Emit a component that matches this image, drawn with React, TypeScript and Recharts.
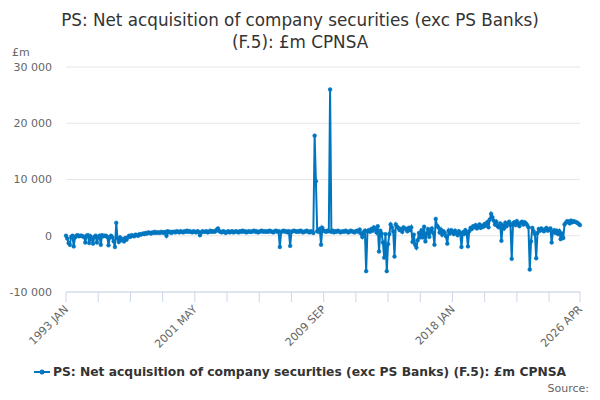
import { LineChart, Line, XAxis, YAxis, CartesianGrid } from 'recharts';

// monthly values, £m, 1993 JAN .. 2026 APR
const v1993 = [0, -500, -1300, -1600, -200, 0, -1900, -300, 0, 100, -100, 0];
const v1994 = [0, -100, -200, -1200, 0, 100, -1300, -100, -600, -1400, -200, 0];
const v1995 = [-1200, -300, 0, -1600, 100, -100, 0, 0, -200, -1700, -300, 0];
const v1996 = [-300, -1000, -2000, 2300, -500, -1100, -300, -800, -600, -1000, -400, -700];
const v1997 = [-300, 0, -200, 100, 0, -100, 200, 100, 0, 300, 200, 300];
const v1998 = [400, 300, 500, 400, 600, 500, 400, 600, 500, 700, 500, 600];
const v1999 = [600, 500, 700, 600, 500, 700, 0, 800, 600, 700, 500, 700];
const v2000 = [700, 600, 800, 700, 600, 800, 700, 600, 800, 700, 900, 700];
const v2001 = [800, 700, 600, 800, 700, 600, 800, 700, 100, 600, 800, 700];
const v2002 = [700, 800, 600, 700, 900, 700, 800, 700, 800, 1100, 1300, 800];
const v2003 = [700, 600, 800, 700, 500, 700, 800, 600, 700, 800, 600, 700];
const v2004 = [800, 700, 600, 800, 700, 900, 700, 800, 600, 700, 800, 700];
const v2005 = [700, 800, 900, 700, 800, 600, 700, 800, 900, 700, 800, 700];
const v2006 = [800, 700, 900, 800, 700, 600, 800, 900, 700, 800, -2000, 700];
const v2007 = [800, 900, 700, 800, 600, 800, -1800, 700, 800, 900, 800, 700];
const v2008 = [800, 700, 900, 800, 600, 700, 800, 900, 700, 600, 800, 700];
const v2009 = [500, 17800, 9700, 800, 700, 1200, -1600, 1400, 900, 800, 700, 900];
const v2010 = [800, 26000, 700, 900, 600, 800, 700, 900, 800, 600, 700, 800];
const v2011 = [700, 900, 800, 600, 700, 900, 800, 700, 600, 800, 900, 700];
const v2012 = [1100, 400, -200, 600, 900, -6300, 800, 1000, 700, 1200, 900, 1500];
const v2013 = [1200, 600, 1700, -2800, 900, 400, -1200, -3900, 300, -6300, -1500, 300];
const v2014 = [2000, 1500, 800, -3700, 2000, 1600, 1400, 1000, 1200, 700, 1500, 1300];
const v2015 = [1200, 800, 1400, 1000, 1500, -1100, 200, -1600, -2100, -800, 500, -300];
const v2016 = [1000, -300, 1600, -1000, 400, 1200, -200, 800, 1300, 500, -1600, 3000];
const v2017 = [1800, 1500, 600, 1100, 200, 800, 500, -100, -1400, 900, 400, 1000];
const v2018 = [700, 300, 900, 500, 100, 800, 400, -2000, 600, 300, 1000, 500];
const v2019 = [-1900, 800, 1400, 1200, 1700, 1500, 1900, 1300, 1600, 2000, 1400, 1800];
const v2020 = [1600, 2100, 1800, 2400, 1500, 2900, 3900, 3300, 2700, 2000, 2500, 1700];
const v2021 = [1500, 2200, -900, 1800, 1300, 2300, 1700, 2200, 2500, 1900, -4100, 2200];
const v2022 = [2400, 1900, 2600, 2100, 1700, 2300, 2500, 2000, 2400, 2200, 1900, 1500];
const v2023 = [-6000, -1000, 1400, 800, 300, -4000, 500, 1200, 900, 1300, 1000, 800];
const v2024 = [1200, 1400, 900, 1100, 1300, -1200, 700, 1000, 500, 900, 300, 800];
const v2025 = [-600, 400, -400, 2000, 2300, 2600, 2500, 2200, 2700, 2400, 2600, 2500];
const v2026 = [2400, 2300, 2100, 1900];

const values = [
  ...v1993, ...v1994, ...v1995, ...v1996, ...v1997, ...v1998, ...v1999, ...v2000,
  ...v2001, ...v2002, ...v2003, ...v2004, ...v2005, ...v2006, ...v2007, ...v2008,
  ...v2009, ...v2010, ...v2011, ...v2012, ...v2013, ...v2014, ...v2015, ...v2016,
  ...v2017, ...v2018, ...v2019, ...v2020, ...v2021, ...v2022, ...v2023, ...v2024,
  ...v2025, ...v2026,
];

const MONTHS = ['JAN', 'FEB', 'MAR', 'APR', 'MAY', 'JUN', 'JUL', 'AUG', 'SEP', 'OCT', 'NOV', 'DEC'];
const startYear = 1993;

const data = values.map((value, i) => ({
  i,
  label: `${startYear + Math.floor(i / 12)} ${MONTHS[i % 12]}`,
  value,
}));

const lastIndex = values.length - 1;
// minor ticks every 25 months, labels every 100
const xTicks = [0, 25, 50, 75, 100, 125, 150, 175, 200, 225, 250, 275, 300, 325, 350, 375, lastIndex];
const labelledTicks = [0, 100, 200, 300, lastIndex];
const yTicks = [-10000, 0, 10000, 20000, 30000];

const TITLE_1 = 'PS: Net acquisition of company securities (exc PS Banks)';
const TITLE_2 = '(F.5): £m CPNSA';
const SERIES = 'PS: Net acquisition of company securities (exc PS Banks) (F.5): £m CPNSA';

const COLOR = '#0076c0';
const FONT = '"DejaVu Sans", Verdana, sans-serif';

const fmt = (v: number) => {
  const s = Math.abs(v).toString().replace(/\B(?=(\d{3})+(?!\d))/g, ' ');
  return v < 0 ? `-${s}` : s;
};

function XTick(props: any) {
  const { x, y, payload } = props;
  const idx = payload.value as number;
  const show = labelledTicks.includes(idx);
  return (
    <g>
      <line x1={x} y1={y - 8} x2={x} y2={y + 2} stroke="#ccd6eb" strokeWidth={1} />
      {show && (
        <text
          x={x + 3}
          y={y + 10}
          textAnchor="end"
          fontSize={11}
          fill="#666666"
          fontFamily={FONT}
          transform={`rotate(-45 ${x + 3} ${y + 10})`}
        >
          {data[idx].label}
        </text>
      )}
    </g>
  );
}

export default function App() {
  return (
    <div style={{ position: 'absolute', left: 0, top: 0, width: 600, height: 400, background: '#fff', fontFamily: FONT }}>
      <div style={{ position: 'absolute', top: 9, left: 0, width: 600, textAlign: 'center', fontSize: 16.8, lineHeight: '22px', color: '#333333' }}>
        {TITLE_1}
        <br />
        {TITLE_2}
      </div>
      <div style={{ position: 'absolute', top: 46, left: 12, fontSize: 11, color: '#666666' }}>£m</div>
      <LineChart
        width={600}
        height={400}
        data={data}
        margin={{ top: 67, right: 20, bottom: 0, left: 6 }}
      >
        <CartesianGrid vertical={false} stroke="#e6e6e6" />
        <XAxis
          dataKey="i"
          type="number"
          domain={[0, lastIndex]}
          ticks={xTicks}
          interval={0}
          height={108}
          axisLine={{ stroke: '#ccd6eb' }}
          tickLine={false}
          tick={<XTick />}
        />
        <YAxis
          type="number"
          domain={[-10000, 30000]}
          ticks={yTicks}
          width={60}
          axisLine={false}
          tickLine={false}
          tickMargin={8}
          tickFormatter={fmt}
          tick={{ fontSize: 11, fill: '#666666', fontFamily: FONT }}
        />
        <Line
          type="linear"
          dataKey="value"
          stroke={COLOR}
          strokeWidth={2}
          dot={{ r: 1.9, fill: COLOR, stroke: COLOR, strokeWidth: 0.5 }}
          isAnimationActive={false}
        />
      </LineChart>
      <div style={{ position: 'absolute', top: 365, left: 0, width: 600, display: 'flex', justifyContent: 'center', alignItems: 'center' }}>
        <svg width={16} height={12} style={{ marginRight: 3 }}>
          <line x1={0} y1={6} x2={16} y2={6} stroke={COLOR} strokeWidth={2} />
          <circle cx={8} cy={6} r={2.5} fill={COLOR} />
        </svg>
        <span style={{ fontSize: 12.3, fontWeight: 'bold', color: '#333333' }}>{SERIES}</span>
      </div>
      <div style={{ position: 'absolute', top: 382, right: 11, fontSize: 11, color: '#666666' }}>Source:</div>
    </div>
  );
}
